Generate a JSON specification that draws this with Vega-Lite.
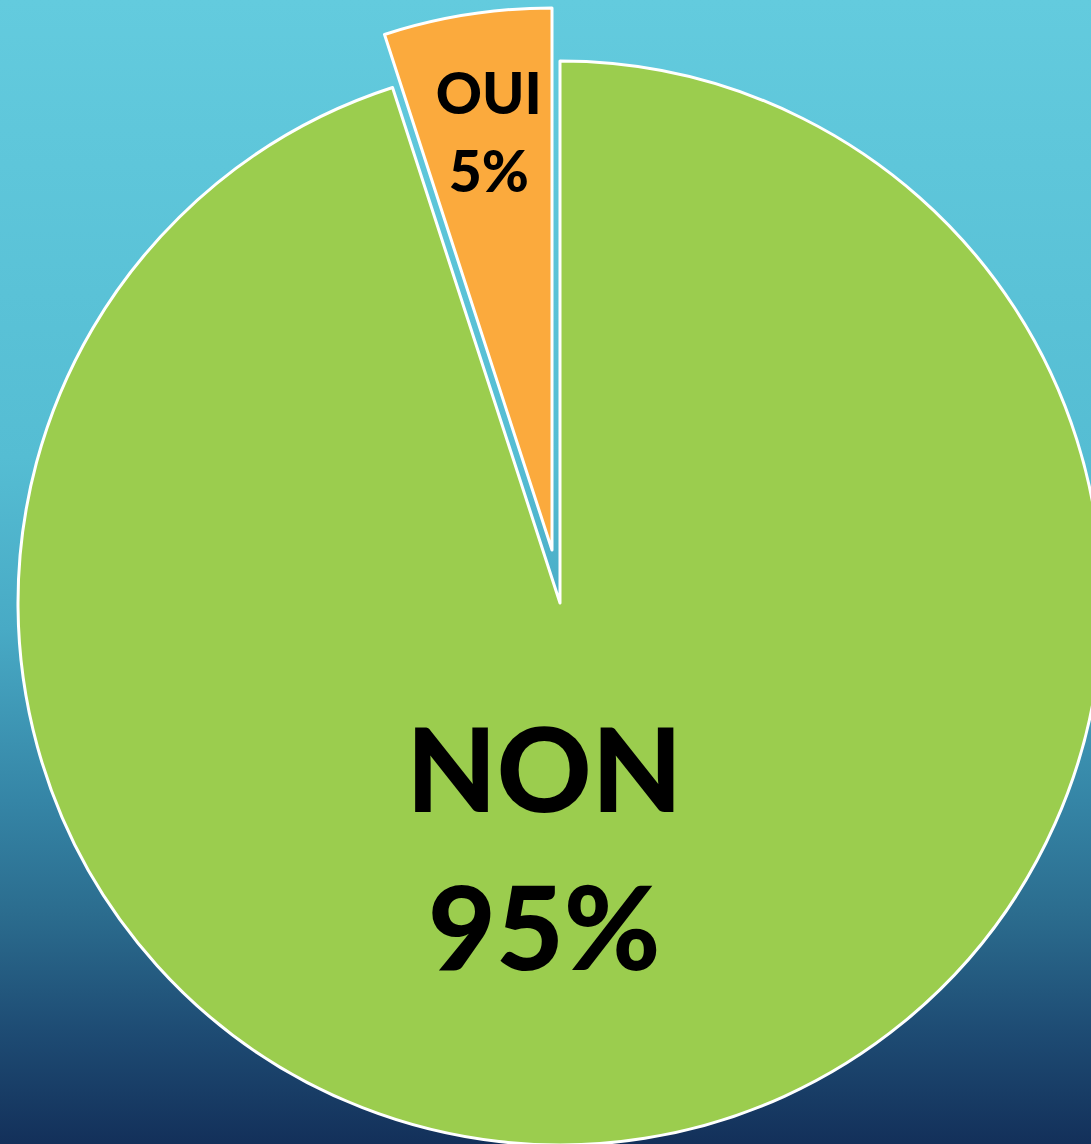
{
  "$schema": "https://vega.github.io/schema/vega-lite/v6.json",
  "autosize": {"type": "none"},
  "width": 1091,
  "height": 1144,
  "padding": 0,
  "background": "#2A6686",
  "view": {
    "stroke": null,
    "fill": {
      "gradient": "linear",
      "x1": 0, "y1": 0, "x2": 0, "y2": 1,
      "stops": [
        {"offset": 0, "color": "#63CBDE"},
        {"offset": 0.4, "color": "#55BDD3"},
        {"offset": 0.55, "color": "#48AAC5"},
        {"offset": 0.7, "color": "#3585A6"},
        {"offset": 0.8, "color": "#2B6C8E"},
        {"offset": 0.9, "color": "#1E4C74"},
        {"offset": 1, "color": "#13305A"}
      ]
    }
  },
  "data": {
    "values": [
      {"category": "NON", "value": 95},
      {"category": "OUI", "value": 5}
    ]
  },
  "transform": [
    {"stack": "value", "groupby": [], "sort": [{"field": "category", "order": "ascending"}], "as": ["v0", "v1"]},
    {"calculate": "(datum.v0 + datum.v1) / 2", "as": "mid"},
    {"calculate": "[datum.category, datum.value + '%']", "as": "label"}
  ],
  "layer": [
    {
      "transform": [{"filter": "datum.category == 'NON'"}],
      "mark": {"type": "arc", "radius": 542, "xOffset": 14.5, "yOffset": 31, "stroke": "white", "strokeWidth": 3, "strokeJoin": "round"},
      "encoding": {
        "theta": {"field": "v0", "type": "quantitative", "scale": {"domain": [0, 100]}},
        "theta2": {"field": "v1"},
        "fill": {"field": "category", "type": "nominal", "scale": {"domain": ["NON", "OUI"], "range": ["#9BCD4E", "#FBAA3D"]}, "legend": null}
      }
    },
    {
      "transform": [{"filter": "datum.category == 'OUI'"}],
      "mark": {"type": "arc", "radius": 542, "xOffset": 6.5, "yOffset": -22, "stroke": "white", "strokeWidth": 3, "strokeJoin": "round"},
      "encoding": {
        "theta": {"field": "v0", "type": "quantitative", "scale": {"domain": [0, 100]}},
        "theta2": {"field": "v1"},
        "fill": {"field": "category", "type": "nominal", "legend": null}
      }
    },
    {
      "transform": [{"filter": "datum.category == 'NON'"}],
      "mark": {"type": "text", "radius": 280, "dx": -45, "dy": -72, "font": "Lato", "fontWeight": 900, "fontSize": 117, "lineHeight": 158, "align": "center", "baseline": "middle", "color": "#000000"},
      "encoding": {
        "theta": {"field": "mid", "type": "quantitative", "scale": {"domain": [0, 100]}},
        "text": {"field": "label"}
      }
    },
    {
      "transform": [{"filter": "datum.category == 'OUI'"}],
      "mark": {"type": "text", "radius": 446, "dx": 13, "dy": -34, "font": "Lato", "fontWeight": 900, "fontSize": 57, "lineHeight": 78, "align": "center", "baseline": "middle", "color": "#000000"},
      "encoding": {
        "theta": {"field": "mid", "type": "quantitative", "scale": {"domain": [0, 100]}},
        "text": {"field": "label"}
      }
    }
  ]
}
